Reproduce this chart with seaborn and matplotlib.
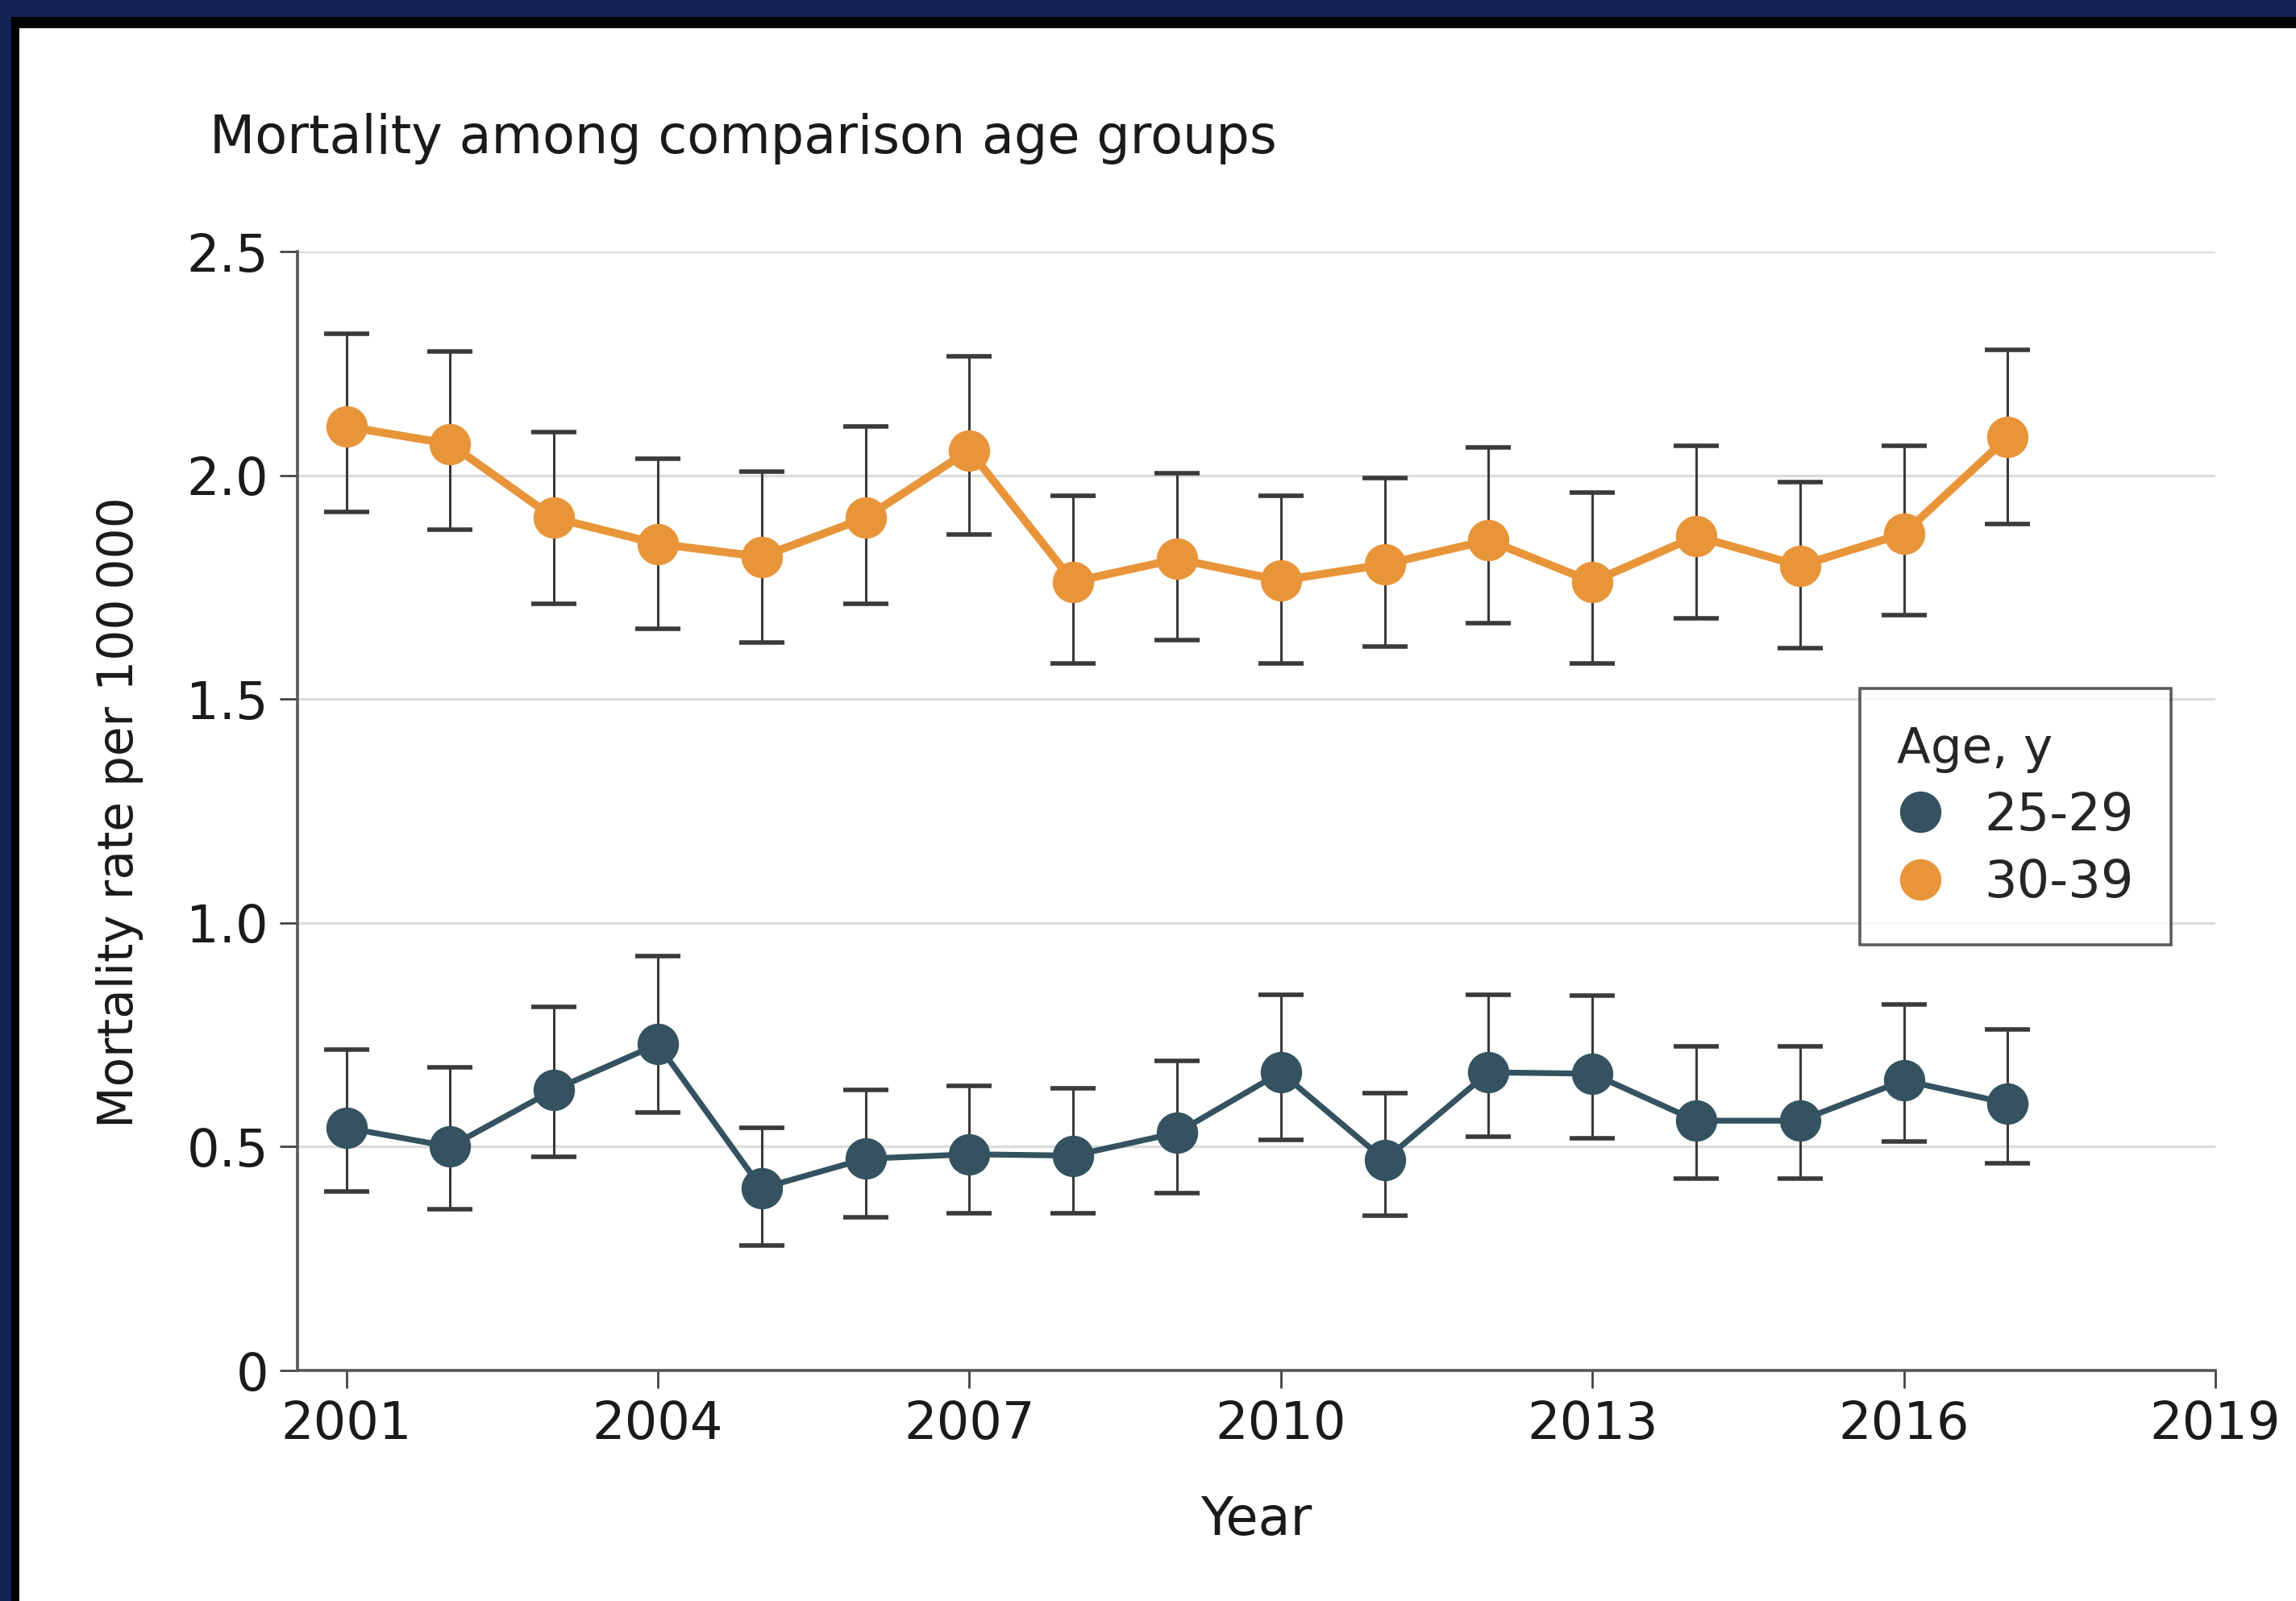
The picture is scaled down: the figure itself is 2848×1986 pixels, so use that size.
import numpy as np
import pandas as pd
import matplotlib
matplotlib.use("Agg")
import matplotlib.pyplot as plt
from matplotlib.lines import Line2D
from matplotlib.patches import Rectangle
import seaborn as sns

# ---- data -------------------------------------------------------------
years = list(range(2001, 2018))
age_groups = ["25-29", "30-39"]

rate_25_29 = [0.542, 0.500, 0.627, 0.729, 0.407, 0.473, 0.483, 0.480, 0.531,
              0.666, 0.470, 0.666, 0.663, 0.558, 0.558, 0.648, 0.597]
lo_25_29 = [0.400, 0.361, 0.477, 0.576, 0.279, 0.343, 0.352, 0.351, 0.397,
            0.515, 0.345, 0.522, 0.519, 0.428, 0.428, 0.512, 0.462]
hi_25_29 = [0.717, 0.678, 0.813, 0.926, 0.542, 0.626, 0.635, 0.631, 0.692,
            0.839, 0.620, 0.839, 0.838, 0.724, 0.724, 0.818, 0.761]

rate_30_39 = [2.109, 2.070, 1.905, 1.847, 1.818, 1.905, 2.056, 1.762, 1.813,
              1.765, 1.801, 1.855, 1.762, 1.864, 1.798, 1.870, 2.085]
lo_30_39 = [1.918, 1.879, 1.713, 1.657, 1.627, 1.713, 1.868, 1.580, 1.631,
            1.580, 1.618, 1.670, 1.580, 1.681, 1.614, 1.688, 1.891]
hi_30_39 = [2.316, 2.277, 2.096, 2.037, 2.009, 2.109, 2.265, 1.954, 2.005,
            1.954, 1.993, 2.062, 1.962, 2.066, 1.984, 2.066, 2.281]

x_ticks = [2001, 2004, 2007, 2010, 2013, 2016, 2019]
y_ticks = [0, 0.5, 1.0, 1.5, 2.0, 2.5]
y_tick_labels = ["0", "0.5", "1.0", "1.5", "2.0", "2.5"]

colors = {"25-29": "#34525F", "30-39": "#E8953A"}
line_widths = {"25-29": 2.6, "30-39": 3.6}

df = pd.DataFrame({
    "year": years * 2,
    "age": [age_groups[0]] * len(years) + [age_groups[1]] * len(years),
    "rate": rate_25_29 + rate_30_39,
    "lo": lo_25_29 + lo_30_39,
    "hi": hi_25_29 + hi_30_39,
})

# ---- figure -----------------------------------------------------------
sns.set_theme(style="white")
plt.rcParams["font.family"] = ["DejaVu Sans"]

W, H, DPI = 2848, 1986, 200
fig = plt.figure(figsize=(W / DPI, H / DPI), dpi=DPI, facecolor="white")
ax = fig.add_axes([369 / W, 1 - 1700 / H, (2748 - 369) / W, (1700 - 312) / H])
ax.set_facecolor("white")

# confidence intervals underneath the markers
for age in age_groups:
    sub = df[df["age"] == age]
    ax.errorbar(sub["year"], sub["rate"],
                yerr=[sub["rate"] - sub["lo"], sub["hi"] - sub["rate"]],
                fmt="none", ecolor="#3a3a3a", elinewidth=1.1,
                capsize=10, capthick=2.0, zorder=3)

# yearly rates with connecting lines
for age in age_groups:
    sns.lineplot(data=df[df["age"] == age], x="year", y="rate",
                 color=colors[age], linewidth=line_widths[age],
                 marker="o", markersize=18.5, markeredgewidth=0,
                 legend=False, ax=ax, zorder=4)

# ---- axes styling -----------------------------------------------------
ax.set_xlim(2000.53, 2019)
ax.set_ylim(0, 2.5)
ax.set_xticks(x_ticks)
ax.set_yticks(y_ticks)
ax.set_yticklabels(y_tick_labels)
ax.yaxis.grid(True, color="#DCDCDC", linewidth=1.2)
ax.xaxis.grid(False)
ax.set_axisbelow(True)

for side in ["top", "right"]:
    ax.spines[side].set_visible(False)
for side in ["left", "bottom"]:
    ax.spines[side].set_color("#555555")
    ax.spines[side].set_linewidth(1.3)

ax.tick_params(axis="both", direction="out", length=8, width=1.0,
               color="#444444", labelsize=23, labelcolor="#1a1a1a", pad=5,
               left=True, bottom=True)

ax.set_xlabel("Year", fontsize=23.5, color="#1a1a1a", labelpad=20)
ax.set_ylabel("")
fig.text(149 / W, 1 - 1008 / H, "Mortality rate per 100\u2009000",
         rotation=90, ha="center", va="center", fontsize=21.5, color="#1a1a1a")

fig.text(260 / W, 1 - 172 / H, "Mortality among comparison age groups",
         ha="left", va="center", fontsize=23.5, color="#1a1a1a")

# ---- legend -----------------------------------------------------------
handles = [Line2D([0], [0], linestyle="none", marker="o", markersize=18.5,
                  markeredgewidth=0, color=colors[a]) for a in age_groups]
leg = ax.legend(handles, age_groups, title="Age, y", loc="upper left",
                bbox_to_anchor=((2307 - 369) / (2748 - 369), (1700 - 854) / 1388),
                borderaxespad=0, fontsize=23, title_fontsize=22,
                frameon=True, fancybox=False, edgecolor="#333333",
                handletextpad=0.8, borderpad=0.72, labelspacing=0.34,
                handlelength=0.9)
leg.get_frame().set_linewidth(1.3)
leg._legend_box.align = "left"

# ---- page border bands --------------------------------------------------
fig.patches.append(Rectangle((0, 1 - 35 / H), 1, 35 / H, transform=fig.transFigure,
                             facecolor="black", edgecolor="none", zorder=10))
fig.patches.append(Rectangle((0, 0), 24 / W, 1, transform=fig.transFigure,
                             facecolor="black", edgecolor="none", zorder=10))
fig.patches.append(Rectangle((0, 1 - 21 / H), 1, 21 / H, transform=fig.transFigure,
                             facecolor="#142355", edgecolor="none", zorder=11))
fig.patches.append(Rectangle((0, 0), 14 / W, 1, transform=fig.transFigure,
                             facecolor="#142355", edgecolor="none", zorder=11))

fig.savefig("out.png", dpi=DPI, facecolor="white")
